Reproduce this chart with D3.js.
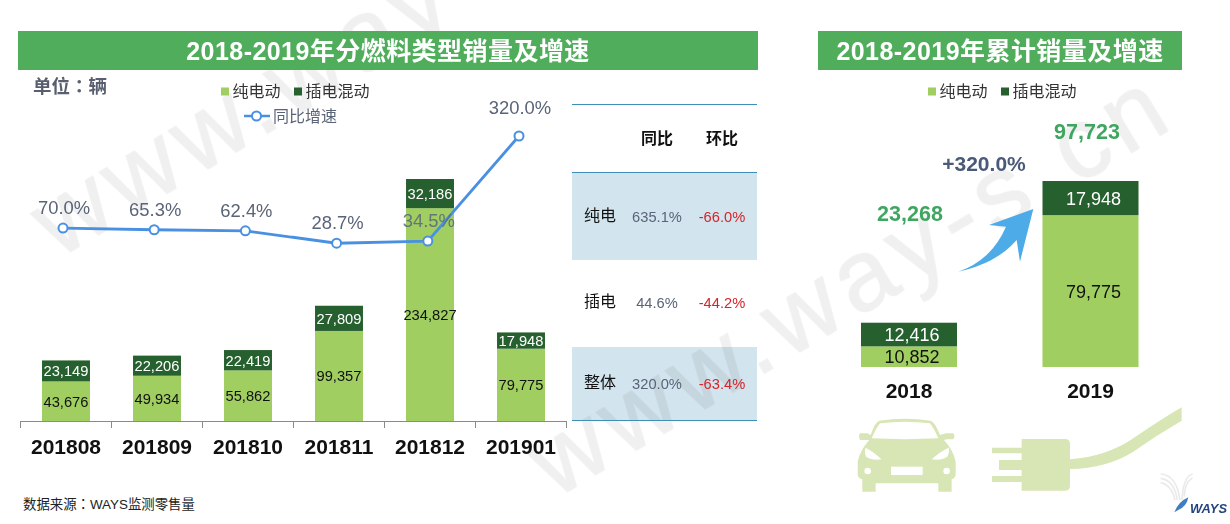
<!DOCTYPE html>
<html><head><meta charset="utf-8">
<script src="https://cdn.jsdelivr.net/npm/d3@7/dist/d3.min.js"></script>
<style>
html,body{margin:0;padding:0;background:#fff}
svg{display:block}
text{font-family:"Liberation Sans","Noto Sans CJK SC",sans-serif}
</style></head><body>
<svg id="c" width="1230" height="524"></svg>
<script>
const months=["201808","201809","201810","201811","201812","201901"];
const pureEV=[43676,49934,55862,99357,234827,79775];
const plugIn=[23149,22206,22419,27809,32186,17948];
const yoyGrowth=[70.0,65.3,62.4,28.7,34.5,320.0];
const tableRows=["纯电","插电","整体"];
const tableHeads=["同比","环比"];
const tableYoy=["635.1%","44.6%","320.0%"];
const tableMom=["-66.0%","-44.2%","-63.4%"];
const years=["2018","2019"];
const pureEVYear=[10852,79775];
const plugInYear=[12416,17948];
const totalYear=["23,268","97,723"];
const seriesNames=["纯电动","插电混动"];
const lineName="同比增速";

const LIGHT="#a0ce61",DARK="#27602f",BLUE="#4a90e2",SLATE="#5a6478",HEAD="#4fad5b";
const fmt=d3.format(",");
const svg=d3.select("#c");

// table bands (under the watermark tint)
[[172,260],[347,421]].forEach(([a,b])=>svg.append("rect").attr("x",572).attr("width",185).attr("y",a).attr("height",b-a).attr("fill","#d2e4ed"));

// watermark
const wm=svg.append("g").attr("fill","#000").attr("stroke","#000").attr("stroke-width",1.5).attr("opacity",0.06)
  .style("font-size","100px");
wm.append("text").attr("transform","translate(58,259) rotate(-31)").attr("letter-spacing",8).style("font-family","'Liberation Sans',sans-serif").text("www.way");
wm.append("text").attr("transform","translate(555,499) rotate(-31)").attr("letter-spacing",8).style("font-family","'Liberation Sans',sans-serif").text("www.way-s.cn");

// header bars
function header(x,w,t){
  svg.append("rect").attr("x",x).attr("y",31).attr("width",w).attr("height",39).attr("fill",HEAD);
  svg.append("text").attr("x",x+w/2).attr("y",59.5).attr("text-anchor","middle").attr("fill","#fff")
    .attr("font-weight","bold").attr("font-size",25).attr("letter-spacing",0.45).text(t);
}
header(18,740,"2018-2019年分燃料类型销量及增速");
header(818,364,"2018-2019年累计销量及增速");

const unit=svg.append("text").attr("x",33).attr("y",93).attr("font-size",18.5).attr("font-weight","bold").attr("fill","#595f6f");
unit.append("tspan").text("单位");
unit.append("tspan").style("font-family","'Noto Sans CJK TC'").text("：");
unit.append("tspan").text("辆");

function legend(x1,x2,y){
  [[x1,LIGHT],[x2,DARK]].forEach(([x,c],i)=>{
    svg.append("rect").attr("x",x).attr("y",y-3.5).attr("width",8).attr("height",8).attr("fill",c);
    svg.append("text").attr("x",x+11.5).attr("y",y+6).attr("font-size",16).attr("fill","#333").text(seriesNames[i]);
  });
}
legend(221,294,91);
legend(928,1001,91);
svg.append("line").attr("x1",244).attr("x2",270).attr("y1",116).attr("y2",116).attr("stroke",BLUE).attr("stroke-width",2.5);
svg.append("circle").attr("cx",256.5).attr("cy",116).attr("r",4.5).attr("fill","#fff").attr("stroke",BLUE).attr("stroke-width",2);
svg.append("text").attr("x",273).attr("y",122).attr("font-size",16).attr("fill",SLATE).text(lineName);

// left chart
const x=d3.scaleBand().domain(months).range([20.5,566.5]).paddingInner(0.473).paddingOuter(0.2365);
const xEdge=d3.scaleBand().domain(months).range([20.5,566.5]);
const y=d3.scaleLinear().domain([0,267013]).range([421,179]);
const yL=d3.scaleLinear().domain([0,320]).range([253.8,136]);
const xL=d3.scalePoint().domain(months).range([63,519]);

const bars=svg.append("g");
months.forEach((m,i)=>{
  bars.append("rect").attr("x",x(m)).attr("width",x.bandwidth()).attr("y",y(pureEV[i])).attr("height",y(0)-y(pureEV[i])).attr("fill",LIGHT);
  bars.append("rect").attr("x",x(m)).attr("width",x.bandwidth()).attr("y",y(pureEV[i]+plugIn[i])).attr("height",y(0)-y(plugIn[i])).attr("fill",DARK);
  bars.append("text").attr("x",x(m)+x.bandwidth()/2).attr("y",(y(0)+y(pureEV[i]))/2+5.5).attr("text-anchor","middle").attr("font-size",14.7).attr("fill","#111").text(fmt(pureEV[i]));
  bars.append("text").attr("x",x(m)+x.bandwidth()/2).attr("y",(y(pureEV[i])+y(pureEV[i]+plugIn[i]))/2+5.5).attr("text-anchor","middle").attr("font-size",14.7).attr("fill","#fff").text(fmt(plugIn[i]));
});

const axG=svg.append("g").attr("transform","translate(0,421)");
axG.call(d3.axisBottom(xEdge).tickSize(0).tickPadding(18));
axG.select(".domain").attr("stroke","#8a8a8a").attr("stroke-width",1);
axG.selectAll("text").attr("font-size",21).attr("font-weight","bold").attr("fill","#111").style("font-family","'Liberation Sans',sans-serif");
const edges=months.map(m=>xEdge(m)).concat([566.5]);
axG.selectAll("line.e").data(edges).join("line").attr("class","e").attr("x1",d=>d).attr("x2",d=>d).attr("y1",0).attr("y2",7).attr("stroke","#8a8a8a");

const line=d3.line().x((d,i)=>xL(months[i])).y(d=>yL(d));
svg.append("path").attr("d",line(yoyGrowth)).attr("fill","none").attr("stroke",BLUE).attr("stroke-width",2.8);
svg.selectAll("circle.p").data(yoyGrowth).join("circle").attr("class","p")
  .attr("cx",(d,i)=>xL(months[i])).attr("cy",d=>yL(d)).attr("r",4.5).attr("fill","#fff").attr("stroke",BLUE).attr("stroke-width",2);
svg.selectAll("text.p").data(yoyGrowth).join("text").attr("class","p")
  .attr("x",(d,i)=>xL(months[i])+1).attr("y",(d,i)=>yL(d)-(i===5?22.5:14))
  .attr("text-anchor","middle").attr("font-size",18.4).attr("fill",SLATE).attr("fill-opacity",(d,i)=>i===4?0.85:1).text(d=>d.toFixed(1)+"%");

// table
[104,172,420].forEach(v=>svg.append("line").attr("x1",572).attr("x2",757).attr("y1",v+.5).attr("y2",v+.5).attr("stroke","#3d8fb8").attr("stroke-width",1));
const colX=[657,722];
tableHeads.forEach((h,i)=>svg.append("text").attr("x",colX[i]).attr("y",144).attr("text-anchor","middle").attr("font-size",16).attr("font-weight","bold").attr("fill","#111").text(h));
const rowY=[217,303,384];
tableRows.forEach((r,i)=>{
  svg.append("text").attr("x",600).attr("y",rowY[i]+4).attr("text-anchor","middle").attr("font-size",16).attr("fill","#111").text(r);
  svg.append("text").attr("x",colX[0]).attr("y",rowY[i]+5).attr("text-anchor","middle").attr("font-size",14.7).attr("fill",SLATE).text(tableYoy[i]);
  svg.append("text").attr("x",colX[1]).attr("y",rowY[i]+5).attr("text-anchor","middle").attr("font-size",14.7).attr("fill","#d8232a").text(tableMom[i]);
});

// right chart
const xr=d3.scalePoint().domain(years).range([909,1090.5]);
const yr=d3.scaleLinear().domain([0,97723]).range([367,181]);
const bw=96;
years.forEach((yy,i)=>{
  const cx=xr(yy);
  svg.append("rect").attr("x",cx-bw/2).attr("width",bw).attr("y",yr(pureEVYear[i])).attr("height",yr(0)-yr(pureEVYear[i])).attr("fill",LIGHT);
  svg.append("rect").attr("x",cx-bw/2).attr("width",bw).attr("y",yr(pureEVYear[i]+plugInYear[i])).attr("height",yr(0)-yr(plugInYear[i])).attr("fill",DARK);
  svg.append("text").attr("x",cx+3).attr("y",(yr(0)+yr(pureEVYear[i]))/2+6.5).attr("text-anchor","middle").attr("font-size",18).attr("fill","#111").text(fmt(pureEVYear[i]));
  svg.append("text").attr("x",cx+3).attr("y",(yr(pureEVYear[i])+yr(pureEVYear[i]+plugInYear[i]))/2+6.5).attr("text-anchor","middle").attr("font-size",18).attr("fill","#fff").text(fmt(plugInYear[i]));
  svg.append("text").attr("x",cx).attr("y",397.5).attr("text-anchor","middle").attr("font-size",21).attr("font-weight","bold").attr("fill","#111").text(yy);
});
svg.append("text").attr("x",910).attr("y",220.5).attr("text-anchor","middle").attr("font-size",21.5).attr("font-weight","bold").attr("fill","#3fa660").text(totalYear[0]);
svg.append("text").attr("x",1087).attr("y",138.5).attr("text-anchor","middle").attr("font-size",21.5).attr("font-weight","bold").attr("fill","#3fa660").text(totalYear[1]);
svg.append("text").attr("x",984).attr("y",170.5).attr("text-anchor","middle").attr("font-size",21).attr("font-weight","bold").attr("fill","#4a5a78").text("+"+yoyGrowth[5].toFixed(1)+"%");

// arrow
svg.append("path").attr("transform","translate(810,20) scale(0.3333)")
  .attr("d","M445 755 Q545 720 588 620 L537 615 L670 567 L630 725 L620 660 Q560 730 445 755Z").attr("fill","#4dabe8");

// source
const src=svg.append("text").attr("x",23).attr("y",509).attr("font-size",13.4).attr("fill","#222");
src.append("tspan").text("数据来源");
src.append("tspan").style("font-family","'Noto Sans CJK TC'").text("：");
src.append("tspan").text("WAYS监测零售量");

// icons
const ic=svg.append("g").attr("transform","translate(840,400) scale(0.3333)");
const IC="#d7e6b4";
ic.append("path").attr("fill",IC).attr("d","M118 62 Q195 50 272 62 Q285 66 300 105 L318 100 H340 Q346 108 340 118 H320 L312 120 Q340 150 347 185 V225 Q345 235 335 238 V275 H295 V250 H107 V275 H67 V238 Q55 235 53 225 V185 Q60 150 88 120 L80 120 H60 Q54 108 60 100 H82 L92 105 Q105 66 118 62Z");
ic.append("path").attr("fill","#fff").attr("d","M120 70 Q195 60 270 70 Q282 85 295 115 Q195 120 95 115 Q108 85 120 70Z");
ic.append("path").attr("fill","#fff").attr("d","M77 143 Q100 155 125 178 Q95 182 78 170 Q72 155 77 143Z M326 143 Q300 155 275 178 Q305 182 322 170 Q330 155 326 143Z");
ic.append("circle").attr("cx",83).attr("cy",213).attr("r",10).attr("fill","#fff");
ic.append("circle").attr("cx",320).attr("cy",213).attr("r",10).attr("fill","#fff");
ic.append("rect").attr("x",153).attr("y",200).attr("width",95).attr("height",25).attr("fill","#fff");
ic.append("path").attr("fill",IC).attr("d","M545 117 H675 Q690 117 690 132 V258 Q690 272 675 272 H545Z M456 143 H545 V160 H456Z M477 180 H545 V210 H477Z M456 228 H545 V246 H456Z M690 178 Q800 170 880 115 Q960 60 1025 22 V62 Q950 105 880 155 Q800 205 690 207Z");

// logo
const lg=svg.append("g").attr("transform","translate(840,400) scale(0.3333)");
lg.append("path").attr("fill","none").attr("stroke","#eaeaea").attr("stroke-width",5)
  .attr("d","M962 222 Q1010 225 1020 300 M962 235 Q1003 240 1012 300 M962 248 Q995 255 1005 300 M1058 222 Q1030 228 1026 300 M1058 235 Q1036 242 1033 290");
lg.append("path").attr("fill","#3f7fbf").attr("d","M1003 337 Q1015 305 1045 292 Q1040 320 1015 330 Z");
svg.append("text").attr("x",1190).attr("y",513).attr("font-size",13).attr("font-weight","bold").attr("font-style","italic").attr("fill","#23457f").attr("textLength",37).attr("lengthAdjust","spacingAndGlyphs").text("WAYS");
</script>
</body></html>
